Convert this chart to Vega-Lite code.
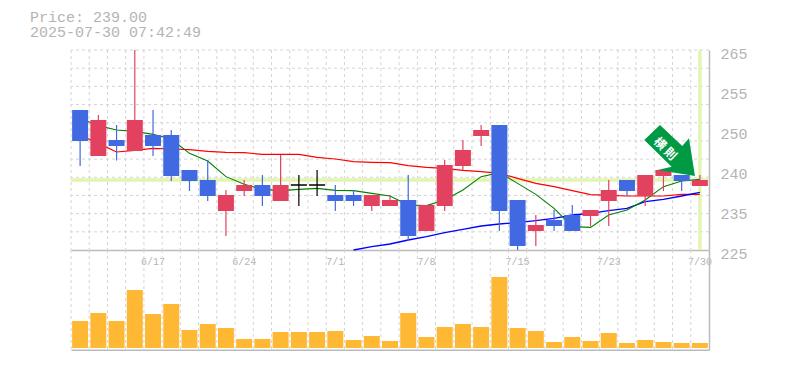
{"$schema":"https://vega.github.io/schema/vega-lite/v6.json","autosize":{"type":"pad"},"padding":{"left":30,"top":10,"right":0,"bottom":0},"background":"white","config":{"view":{"stroke":null},"axis":{"labelFont":"Liberation Mono","labelColor":"#b4b4b4"}},"title":{"text":["Price: 239.00","2025-07-30 07:42:49"],"anchor":"start","frame":"group","font":"Liberation Mono","fontSize":15,"fontWeight":"normal","color":"#b4b4b4","lineHeight":15,"dx":-41,"offset":6},"datasets":{"candles":[
{"date":"6/11","open":253,"high":253,"low":241.8,"close":246.8,"kind":"down","vol":27,"ma5":251.33,"ma25":248},
{"date":"6/12","open":243.8,"high":252,"low":243.8,"close":251,"kind":"up","vol":35,"ma5":249.87,"ma25":246.33},
{"date":"6/13","open":247,"high":250,"low":242.9,"close":245.8,"kind":"down","vol":27,"ma5":249,"ma25":244.6},
{"date":"6/16","open":244.8,"high":265,"low":244.8,"close":251,"kind":"up","vol":58,"ma5":248.73,"ma25":244.93},
{"date":"6/17","open":248,"high":253,"low":243.8,"close":245.8,"kind":"down","vol":34,"ma5":248.13,"ma25":245.33},
{"date":"6/18","open":248,"high":249,"low":238.8,"close":239.8,"kind":"down","vol":44,"ma5":247.2,"ma25":245.2},
{"date":"6/19","open":241,"high":241,"low":236.8,"close":238.8,"kind":"down","vol":18,"ma5":244.33,"ma25":245.07},
{"date":"6/20","open":239,"high":243,"low":234.8,"close":235.8,"kind":"down","vol":24,"ma5":242.8,"ma25":244.73},
{"date":"6/23","open":232.8,"high":237,"low":227.8,"close":236,"kind":"up","vol":20,"ma5":239.67,"ma25":244.53},
{"date":"6/24","open":236.8,"high":239,"low":235.8,"close":238,"kind":"up","vol":9,"ma5":238.13,"ma25":244.47},
{"date":"6/25","open":238,"high":240,"low":233.8,"close":235.8,"kind":"down","vol":9,"ma5":237.13,"ma25":244.13},
{"date":"6/26","open":234.8,"high":244,"low":234.8,"close":238,"kind":"up","vol":16,"ma5":236.87,"ma25":244.13},
{"date":"6/27","open":238,"high":240,"low":233.8,"close":238,"kind":"flat","vol":16,"ma5":237.13,"ma25":244.13},
{"date":"6/30","open":238,"high":241,"low":235.8,"close":238,"kind":"flat","vol":16,"ma5":237.33,"ma25":243.53},
{"date":"7/1","open":236,"high":238,"low":232.8,"close":234.8,"kind":"down","vol":17,"ma5":236.93,"ma25":243.2},
{"date":"7/2","open":236,"high":237,"low":233.8,"close":234.8,"kind":"down","vol":8,"ma5":236.87,"ma25":242.67,"ma75":225},
{"date":"7/3","open":233.8,"high":236,"low":232.8,"close":236,"kind":"up","vol":12,"ma5":236.33,"ma25":242.53,"ma75":225.67},
{"date":"7/4","open":233.8,"high":236,"low":233.8,"close":235,"kind":"up","vol":7,"ma5":235.8,"ma25":242.47,"ma75":226.2},
{"date":"7/7","open":235,"high":240,"low":226.8,"close":227.8,"kind":"down","vol":35,"ma5":234,"ma25":241.87,"ma75":227},
{"date":"7/8","open":228.8,"high":234,"low":228.8,"close":234,"kind":"up","vol":11,"ma5":233.87,"ma25":241.53,"ma75":227.67},
{"date":"7/9","open":233.8,"high":243,"low":232.8,"close":242,"kind":"up","vol":21,"ma5":235,"ma25":241.33,"ma75":228.47},
{"date":"7/10","open":241.8,"high":247,"low":241,"close":245,"kind":"up","vol":24,"ma5":237,"ma25":240.93,"ma75":229.13},
{"date":"7/11","open":247.8,"high":250,"low":245.8,"close":249,"kind":"up","vol":21,"ma5":239.67,"ma25":240.67,"ma75":229.8},
{"date":"7/14","open":250,"high":250,"low":228.8,"close":232.8,"kind":"down","vol":71,"ma5":240.47,"ma25":240.33,"ma75":230.2},
{"date":"7/15","open":235,"high":235,"low":225,"close":225.8,"kind":"down","vol":20,"ma5":238.33,"ma25":239.33,"ma75":230.47},
{"date":"7/16","open":228.8,"high":232,"low":225.8,"close":230,"kind":"up","vol":17,"ma5":236.13,"ma25":238.33,"ma75":230.87},
{"date":"7/17","open":231,"high":233,"low":228.8,"close":229.8,"kind":"down","vol":6,"ma5":233.33,"ma25":237.67,"ma75":231.33},
{"date":"7/18","open":232,"high":234,"low":228.8,"close":228.8,"kind":"down","vol":11,"ma5":229.67,"ma25":236.87,"ma75":232},
{"date":"7/22","open":231.8,"high":233,"low":229.8,"close":233,"kind":"up","vol":7,"ma5":229.53,"ma25":236.07,"ma75":232.33},
{"date":"7/23","open":234.8,"high":239,"low":229.8,"close":237,"kind":"up","vol":15,"ma5":232,"ma25":235.93,"ma75":232.87},
{"date":"7/24","open":239,"high":239,"low":235.8,"close":236.8,"kind":"down","vol":5,"ma5":233,"ma25":235.8,"ma75":233.33},
{"date":"7/25","open":235.8,"high":240,"low":233.8,"close":240,"kind":"up","vol":8,"ma5":235,"ma25":235.8,"ma75":234.67},
{"date":"7/28","open":239.8,"high":241,"low":236.8,"close":241,"kind":"up","vol":6,"ma5":237.67,"ma25":235.8,"ma75":235.13},
{"date":"7/29","open":240,"high":240,"low":236.8,"close":238.8,"kind":"down","vol":5,"ma5":238.8,"ma25":236.13,"ma75":235.8},
{"date":"7/30","open":237.8,"high":240,"low":237.8,"close":239,"kind":"up","vol":5,"ma5":239.13,"ma25":236.13,"ma75":236.53}
],"gridY":[{"price":265},{"price":261.36},{"price":257.73},{"price":254.09},{"price":250.45},{"price":246.82},{"price":243.18},{"price":239.55},{"price":235.91},{"price":232.27},{"price":228.64}],"last":[{"date":"7/30","price":239}],"mark":[{"date":"7/29","price":245}],"markText":[{"date":"7/28","price":245.6,"label":"横  則"}]},
"spacing":0,"bounds":"flush","vconcat":[
{"width":638,"height":200,
"encoding":{"x":{"field":"date","type":"ordinal","title":null,"sort":null,"scale":{"type":"band","paddingInner":0,"paddingOuter":0,"domain":["6/11","6/12","6/13","6/16","6/17","6/18","6/19","6/20","6/23","6/24","6/25","6/26","6/27","6/30","7/1","7/2","7/3","7/4","7/7","7/8","7/9","7/10","7/11","7/14","7/15","7/16","7/17","7/18","7/22","7/23","7/24","7/25","7/28","7/29","7/30"]},"axis":{"values":["6/17","6/24","7/1","7/8","7/15","7/23","7/30"],"labelAngle":0,"labelFontSize":10,"labelPadding":6,"ticks":false,"grid":false,"domain":true,"domainColor":"#bbbbbb","domainWidth":1.5,"labelOverlap":false,"labelBound":false,"labelFlush":false}}},
"layer":[
{"data":{"name":"candles"},"mark":{"type":"rule","stroke":"#d4d4d4","strokeDash":[3,3],"strokeWidth":1},"encoding":{"x":{"field":"date","type":"ordinal","bandPosition":0}}},
{"data":{"name":"gridY"},"mark":{"type":"rule","stroke":"#d4d4d4","strokeDash":[3,3],"strokeWidth":1},"encoding":{"x":null,"y":{"field":"price","type":"quantitative","title":null,"scale":{"domain":[225,265],"zero":false,"nice":false},"axis":{"orient":"right","title":null,"values":[265,257,249,241,233,225],"tickCount":10,"labelExpr":"datum.value==257?'255':datum.value==249?'250':datum.value==241?'240':datum.value==233?'235':datum.label","labelFontSize":15,"labelPadding":11,"labelOffset":3,"ticks":false,"grid":false,"domain":true,"domainColor":"#bbbbbb","domainWidth":1.5,"labelOverlap":false,"labelBound":false,"labelFlush":false}}}},
{"data":{"name":"last"},"mark":{"type":"rule","stroke":"#e2f5ae","strokeWidth":3.3},"encoding":{"x":null,"y":{"field":"price","type":"quantitative","title":null}}},
{"data":{"name":"last"},"mark":{"type":"rule","stroke":"#e2f5ae","strokeWidth":3.3},"encoding":{"x":{"field":"date","type":"ordinal"}}},
{"data":{"name":"candles"},"mark":{"type":"line","stroke":"#ff0000","strokeWidth":1.2,"interpolate":"linear"},"encoding":{"y":{"field":"ma25","type":"quantitative","title":null}}},
{"data":{"name":"candles"},"mark":{"type":"line","stroke":"#0000ff","strokeWidth":1.3},"transform":[{"filter":"isValid(datum.ma75)"}],"encoding":{"y":{"field":"ma75","type":"quantitative","title":null}}},
{"data":{"name":"candles"},"mark":{"type":"line","stroke":"#008000","strokeWidth":1.1},"encoding":{"y":{"field":"ma5","type":"quantitative","title":null}}},
{"data":{"name":"candles"},"mark":{"type":"rule","strokeWidth":1.2},"encoding":{"y":{"field":"low","type":"quantitative","title":null},"y2":{"field":"high"},"color":{"field":"kind","type":"nominal","legend":null,"scale":{"domain":["up","down","flat"],"range":["#e2415f","#4169e1","#000000"]}}}},
{"data":{"name":"candles"},"transform":[{"filter":"datum.kind !== 'flat'"}],"mark":{"type":"bar","width":16,"stroke":null},"encoding":{"y":{"field":"open","type":"quantitative","title":null},"y2":{"field":"close"},"color":{"field":"kind","type":"nominal","legend":null}}},
{"data":{"name":"candles"},"transform":[{"filter":"datum.kind === 'flat'"}],"mark":{"type":"bar","width":16,"stroke":"#000000","strokeWidth":1,"fill":"#000000"},"encoding":{"y":{"field":"open","type":"quantitative","title":null},"y2":{"field":"close"}}},
{"data":{"name":"mark"},"mark":{"type":"point","filled":true,"size":4,"fill":"#009944","stroke":null,"opacity":1,"shape":"M-21.7,-25 L-37.4,-10 L-10,16.7 L-24,20 L13.3,26 L7.3,-11.7 L0.6,-4 Z"},"encoding":{"y":{"field":"price","type":"quantitative","title":null}}},
{"data":{"name":"markText"},"mark":{"type":"text","font":"Noto Sans CJK JP","fontWeight":"bold","fontSize":12,"fill":"#ffffff","angle":45,"align":"center","baseline":"middle","dx":2.5},"encoding":{"y":{"field":"price","type":"quantitative","title":null},"text":{"field":"label"}}}
]},
{"width":638,"height":100,
"encoding":{"x":{"field":"date","type":"ordinal","title":null,"sort":null,"scale":{"type":"band","paddingInner":0,"paddingOuter":0},"axis":{"labels":false,"ticks":false,"grid":false,"domain":true,"domainColor":"#bbbbbb","domainWidth":2,"title":null}}},
"layer":[
{"data":{"name":"candles"},"mark":{"type":"rule","stroke":"#d4d4d4","strokeDash":[3,3],"strokeWidth":1},"encoding":{"x":{"field":"date","type":"ordinal","bandPosition":0}}},
{"data":{"name":"candles"},"mark":{"type":"bar","width":16,"fill":"#ffb833"},"encoding":{"y":{"field":"vol","type":"quantitative","scale":{"domain":[-2,98],"nice":false,"zero":false},"axis":{"orient":"right","title":null,"labels":false,"ticks":false,"grid":false,"domain":true,"domainColor":"#bbbbbb","domainWidth":1.5}}}}
]}
]}
